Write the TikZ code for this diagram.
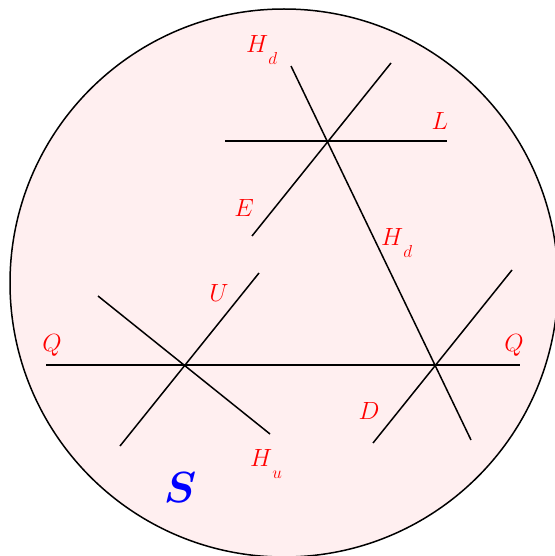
\documentclass[tikz,border=0pt]{standalone}
\usepackage{amsmath,bm,graphicx}
\definecolor{pinkfill}{RGB}{255,239,240}
\newcommand{\lowsub}[2]{$#1\raisebox{-0.5em}{$\scriptstyle #2$}$}
\begin{document}
\begin{tikzpicture}[x=1pt,y=-1pt,
  lbl/.style={text=red,font=\fontsize{24}{28}\selectfont,inner sep=0pt},
  ln/.style={line width=1.5pt,black}]
\useasboundingbox (0,0) rectangle (554,556);
\draw[fill=pinkfill,line width=1.5pt] (284,283) circle (274);
% endpoints
\coordinate (a1) at (225,141); \coordinate (a2) at (447,141);
\coordinate (b1) at (291,66);  \coordinate (b2) at (471,440);
\coordinate (c1) at (391,63);  \coordinate (c2) at (252,236);
\coordinate (d1) at (46,365);  \coordinate (d2) at (520,365);
\coordinate (e1) at (259,273); \coordinate (e2) at (120,446);
\coordinate (f1) at (98,296);  \coordinate (f2) at (270,434);
\coordinate (g1) at (512,270); \coordinate (g2) at (373,443);
\draw[ln] (a1) -- (a2);
\draw[ln] (b1) -- (b2);
\draw[ln] (c1) -- (c2);
\draw[ln] (d1) -- (d2);
\draw[ln] (e1) -- (e2);
\draw[ln] (f1) -- (f2);
\draw[ln] (g1) -- (g2);
% labels
\node[lbl,anchor=base west] (hd1) at (246,53) {\lowsub{H}{d}};
\node[lbl] (L) at (440,121) {$L$};
\node[lbl] (E) at (244,208) {$E$};
\node[lbl,anchor=base west] (hd2) at (381,245) {\lowsub{H}{d}};
\node[lbl] (U) at (219,293) {$U$};
\node[lbl] (q1) at (52,345) {$Q$};
\node[lbl] (q2) at (514,345) {$Q$};
\node[lbl] (D) at (369,411) {$D$};
\node[lbl,anchor=base west] (hu) at (250,466) {\lowsub{H}{u}};
\node[text=blue,font=\fontsize{24}{28}\selectfont,inner sep=0pt] (S) at (180,488) {\scalebox{1.75}{$\bm{S}$}};
\end{tikzpicture}
\end{document}
